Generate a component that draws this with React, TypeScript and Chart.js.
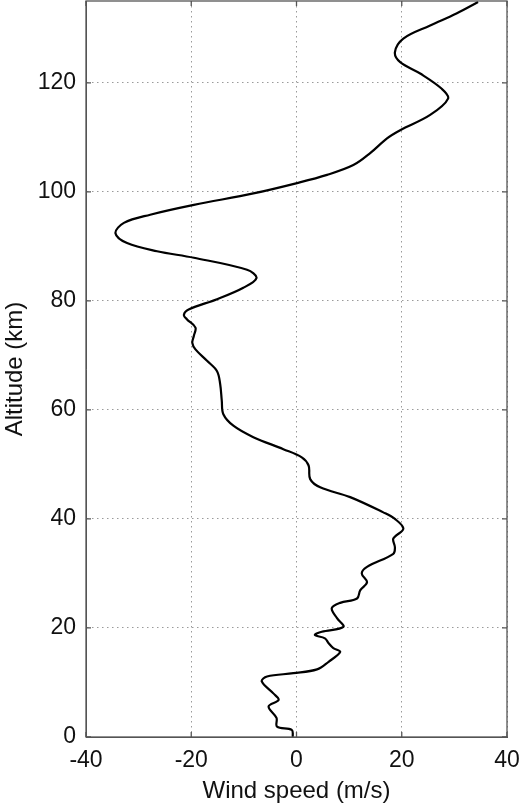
import { useEffect, useRef } from 'react'
import Chart from 'chart.js/auto';

// altitude (km) and the wind speed read at it (m/s)
const altitudeKm = [
    0, 1.3, 1.9, 3.5, 5.6, 6.8, 8, 10.2, 11.1, 11.7,
    12.4, 13.8, 15.6, 16.3, 17.2, 18.1, 18.7, 19.3, 20.2, 21.8,
    23.6, 24.6, 25.4, 26.9, 28.4, 30.0, 31.2, 33.6, 34.8, 36.4,
    38.2, 40.0, 41.2, 44.0, 45.8, 47.3, 49.8, 51.3, 52.8, 55.0,
    57.1, 59.2, 61.7, 64.7, 67.1, 69.0, 71.1, 72.3, 73.6, 75.1,
    76.6, 77.4, 78.4, 80.3, 82.4, 84.2, 85.7, 87.9, 89.1, 90.6,
    92.4, 94.3, 95.8, 97.6, 99.7, 101.6, 103.1, 104.9, 107.1, 109.8,
    111.3, 114.1, 117.1, 118.9, 121.7, 123.8, 125.6, 128.1, 130.5, 132.7,
    134.8
];
const windSpeed = [
    -0.7, -0.9, -3.7, -3.8, -5.3, -3.4, -4.4, -6.6, -5.6, -0.6,
    3.9, 6.1, 8.3, 7.0, 6.1, 5.4, 3.5, 4.8, 8.9, 7.7,
    6.7, 8.3, 11.5, 12.1, 13.4, 12.4, 13.4, 18.4, 18.7, 18.4,
    20.3, 18.7, 16.5, 10.2, 4.5, 2.6, 2.3, 1.0, -2.5, -8.2,
    -12.0, -13.9, -14.2, -14.5, -15.1, -17.0, -19.2, -19.8, -19.5, -19.2,
    -20.8, -21.4, -20.5, -15.1, -10.1, -7.6, -9.4, -19.5, -26.5, -32.2,
    -34.4, -32.8, -27.8, -19.5, -8.2, 0.1, 5.8, 10.8, 14.0, 17.2,
    19.7, 25.4, 28.8, 27.6, 23.5, 19.7, 18.7, 20.3, 25.4, 30.4,
    34.5
];

const xTicks = [-40, -20, 0, 20, 40];
const yTicks = [0, 20, 40, 60, 80, 100, 120];

const FONT = { family: '"Liberation Sans", Arial, sans-serif', size: 23 };
const TITLE_FONT = { family: '"Liberation Sans", Arial, sans-serif', size: 24 };
const AXIS_GREY = '#555';

// matlab style box with inward tick marks
const boxPlugin = {
    id: 'box',
    afterDraw(chart: any) {
        const { ctx, chartArea: a, scales } = chart;
        ctx.save();
        ctx.strokeStyle = AXIS_GREY;
        ctx.lineWidth = 1.3;
        ctx.strokeRect(a.left, a.top, a.right - a.left, a.bottom - a.top);
        ctx.beginPath();
        xTicks.forEach(v => {
            const px = scales.x.getPixelForValue(v);
            ctx.moveTo(px, a.bottom); ctx.lineTo(px, a.bottom - 5);
            ctx.moveTo(px, a.top); ctx.lineTo(px, a.top + 5);
        });
        yTicks.forEach(v => {
            const py = scales.y.getPixelForValue(v);
            ctx.moveTo(a.left, py); ctx.lineTo(a.left + 5, py);
            ctx.moveTo(a.right, py); ctx.lineTo(a.right - 5, py);
        });
        ctx.stroke();
        ctx.restore();
    }
};

const App = () => {

    const chartRef = useRef<HTMLCanvasElement>(null);

    useEffect(() => {
        if (!chartRef.current) return;

        const points = altitudeKm.map((alt, i) => ({ x: windSpeed[i], y: alt }));

        const myChart = new Chart(chartRef.current, {
            type: 'scatter',
            data: {
                datasets: [{
                    data: points,
                    showLine: true,
                    borderColor: '#000',
                    borderWidth: 2.2,
                    pointRadius: 0,
                    tension: 0.35,
                }]
            },
            plugins: [boxPlugin],
            options: {
                animation: false,
                responsive: true,
                maintainAspectRatio: false,
                layout: { padding: { top: 1, right: 13, left: 0, bottom: 0 } },
                plugins: {
                    legend: { display: false },
                    tooltip: { enabled: false },
                },
                scales: {
                    x: {
                        type: 'linear',
                        min: -40,
                        max: 40,
                        afterBuildTicks: (s: any) => { s.ticks = xTicks.map(v => ({ value: v })); },
                        afterFit: (s: any) => { s.height = 71; s.paddingLeft = 0; s.paddingRight = 0; },
                        ticks: { font: FONT, color: '#111', padding: 10, maxRotation: 0 },
                        grid: { color: '#9a9a9a', lineWidth: 1, drawTicks: false },
                        border: { color: AXIS_GREY, dash: [1.5, 3.5] },
                        title: { display: true, text: 'Wind speed (m/s)', font: TITLE_FONT, color: '#111', padding: { top: 8, bottom: 2 } },
                    },
                    y: {
                        type: 'linear',
                        min: 0,
                        max: 135,
                        afterBuildTicks: (s: any) => { s.ticks = yTicks.map(v => ({ value: v })); },
                        afterFit: (s: any) => { s.width = 86; s.paddingTop = 0; s.paddingBottom = 0; },
                        ticks: { font: FONT, color: '#111', padding: 10 },
                        grid: { color: '#9a9a9a', lineWidth: 1, drawTicks: false },
                        border: { color: AXIS_GREY, dash: [1.5, 3.5] },
                        title: { display: true, text: 'Altitude (km)', font: TITLE_FONT, color: '#111', padding: { top: 1, bottom: 0 } },
                    }
                }
            }
        });

        return () => {
            myChart.destroy();
        }
    }, []);

    return (
        <div style={{ position: 'fixed', left: 0, top: 0, width: 520, height: 808, background: '#fff' }}>
            <canvas ref={chartRef} />
        </div>
    );
}

export default App;
